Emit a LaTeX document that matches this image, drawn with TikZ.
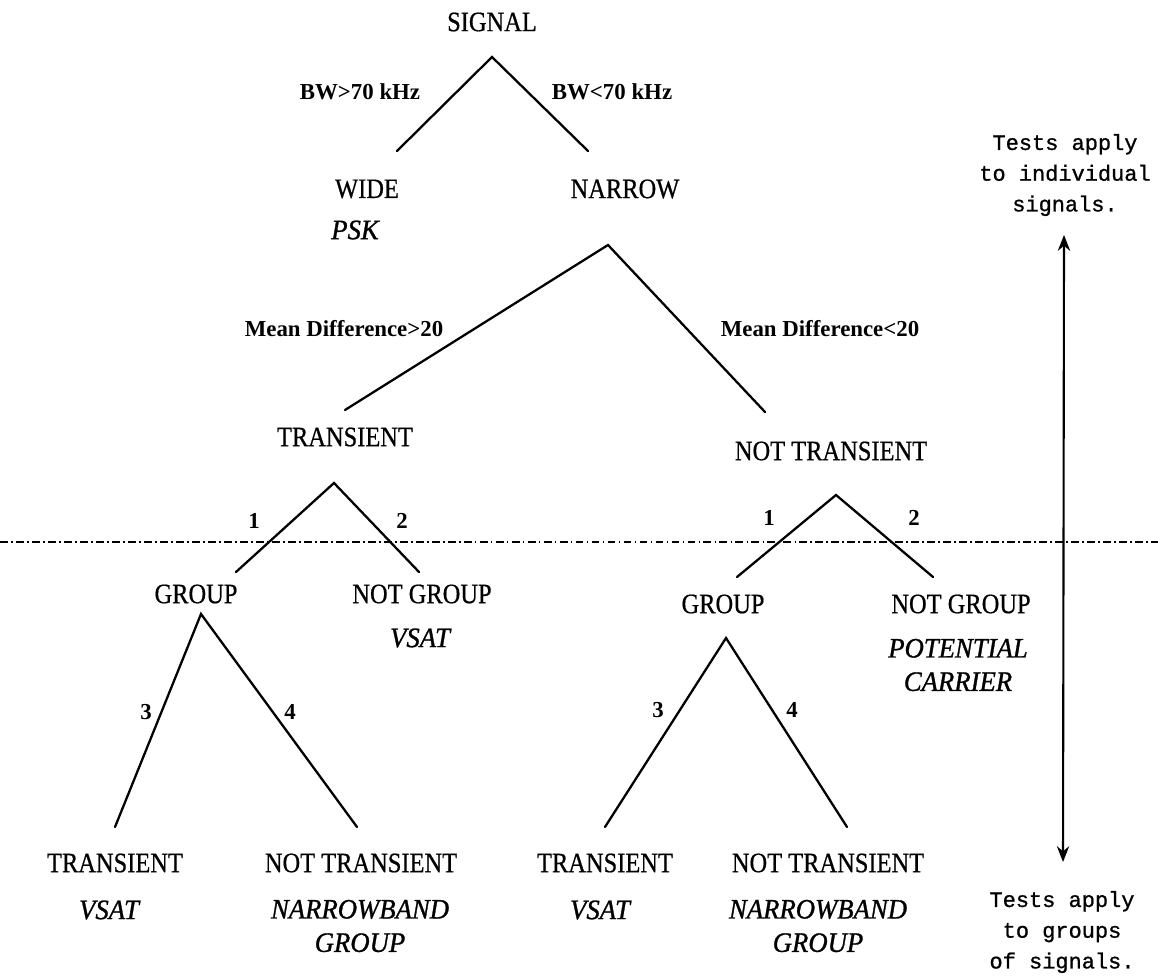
\documentclass[tikz,border=0pt]{standalone}
\usepackage{fontspec}
\setmainfont{Liberation Serif}
\newfontfamily\capsfont[FakeStretch=0.87,FakeBold=0.6]{Liberation Serif}
\newfontfamily\itcapsfont[FakeStretch=0.95,FakeBold=1]{Liberation Serif Italic}
\newfontfamily\labfont{Liberation Serif Bold}
\newfontfamily\twfont[FakeBold=1]{Liberation Mono}
\usetikzlibrary{arrows.meta}
\tikzset{
  capt/.style={inner sep=0pt, font=\capsfont\fontsize{16}{18}\selectfont},
  ittxt/.style={inner sep=0pt, align=center, font=\itcapsfont\fontsize{16}{19}\selectfont},
  brlab/.style={inner sep=0pt, font=\labfont\fontsize{13}{15}\selectfont},
  sidetxt/.style={inner sep=0pt, align=center, font=\twfont\fontsize{12.5}{17.5}\selectfont},
  branch/.style={line width=1.3pt, line cap=round},
  divider/.style={line width=0.9pt, dash pattern=on 4.5pt off 1.8pt on 1pt off 1.8pt},
  scopearrow/.style={line width=1.2pt, {Stealth[length=9pt,width=7pt]}-{Stealth[length=9pt,width=7pt]}}
}
\begin{document}
\begin{tikzpicture}[x=0.02cm, y=-0.02cm]
\useasboundingbox (0,0) rectangle (1158,979);
% level 0
\node[capt] (signal) at (492,22) {SIGNAL};
\coordinate (a1) at (492,57);
\coordinate (a1l) at (397,151);
\coordinate (a1r) at (588,151);
\draw[branch] (a1l) -- (a1) -- (a1r);
\node[brlab] (bwgt) at (360,92) {BW>70 kHz};
\node[brlab] (bwlt) at (612,92) {BW<70 kHz};
% level 1
\node[capt] (wide) at (367,189) {WIDE};
\node[ittxt] (psk) at (355,230) {PSK};
\node[capt] (narrow) at (625,189) {NARROW};
\coordinate (a2) at (608,245);
\coordinate (a2l) at (345,410);
\coordinate (a2r) at (765,412);
\draw[branch] (a2l) -- (a2) -- (a2r);
\node[brlab] (mdgt) at (344,329) {Mean Difference>20};
\node[brlab] (mdlt) at (820,329) {Mean Difference<20};
% level 2
\node[capt] (trans) at (345,437) {TRANSIENT};
\node[capt] (ntrans) at (831,451) {NOT TRANSIENT};
\coordinate (a3) at (334,483);
\coordinate (a3l) at (236,572);
\coordinate (a3r) at (419,572);
\draw[branch] (a3l) -- (a3) -- (a3r);
\node[brlab] (l1a) at (254,521) {1};
\node[brlab] (l2a) at (402,521) {2};
\coordinate (a4) at (836,495);
\coordinate (a4l) at (737,577);
\coordinate (a4r) at (933,577);
\draw[branch] (a4l) -- (a4) -- (a4r);
\node[brlab] (l1b) at (769,518) {1};
\node[brlab] (l2b) at (914,518) {2};
% divider
\coordinate (dl) at (0,542);
\coordinate (dr) at (1158,542);
\draw[divider] (dl) -- (dr);
% level 3
\node[capt] (grpa) at (196,594) {GROUP};
\node[capt] (ngrpa) at (422,594) {NOT GROUP};
\node[ittxt] (vsata) at (420,638) {VSAT};
\node[capt] (grpb) at (723,604) {GROUP};
\node[capt] (ngrpb) at (961,604) {NOT GROUP};
\node[ittxt] (potc) at (958,665) {POTENTIAL\\CARRIER};
\coordinate (a5) at (201,614);
\coordinate (a5l) at (115,827);
\coordinate (a5r) at (357,827);
\draw[branch] (a5l) -- (a5) -- (a5r);
\node[brlab] (l3a) at (146,712) {3};
\node[brlab] (l4a) at (290,712) {4};
\coordinate (a6) at (726,638);
\coordinate (a6l) at (605,827);
\coordinate (a6r) at (847,827);
\draw[branch] (a6l) -- (a6) -- (a6r);
\node[brlab] (l3b) at (658,710) {3};
\node[brlab] (l4b) at (792,710) {4};
% level 4
\node[capt] (ta) at (115,863) {TRANSIENT};
\node[ittxt] (va) at (109,910) {VSAT};
\node[capt] (nta) at (361,863) {NOT TRANSIENT};
\node[ittxt] (nbga) at (360,926) {NARROWBAND\\GROUP};
\node[capt] (tb) at (605,863) {TRANSIENT};
\node[ittxt] (vb) at (600,910) {VSAT};
\node[capt] (ntb) at (828,863) {NOT TRANSIENT};
\node[ittxt] (nbgb) at (818,926) {NARROWBAND\\GROUP};
% side notes
\node[sidetxt] (topnote) at (1065,175) {Tests apply\\to individual\\signals.};
\node[sidetxt] (botnote) at (1062,932) {Tests apply\\to groups\\of signals.};
\coordinate (arrtop) at (1064,235);
\coordinate (arrbot) at (1063,862);
\draw[scopearrow] (arrbot) -- (arrtop);
\end{tikzpicture}
\end{document}
